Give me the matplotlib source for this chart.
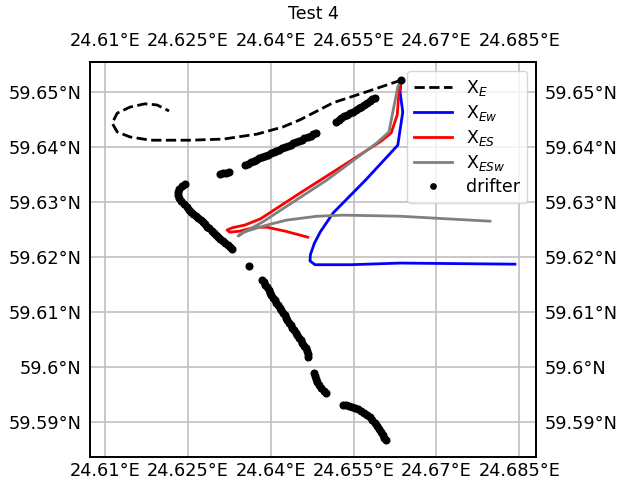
import matplotlib
matplotlib.use("Agg")
import matplotlib.pyplot as plt

# model tracks (lon, lat)
xe_lon = [24.6636, 24.6574, 24.6513, 24.6453, 24.6422, 24.6375, 24.6314, 24.6254, 24.6182,
          24.6145, 24.6122, 24.6113, 24.6122, 24.6145, 24.6172, 24.6194, 24.6216]
xe_lat = [59.6521, 59.6500, 59.6480, 59.6449, 59.6436, 59.6423, 59.6414, 59.6412, 59.6412,
          59.6418, 59.6427, 59.6443, 59.6461, 59.6472, 59.6478, 59.6476, 59.6465]

xew_lon = [24.6636, 24.6634, 24.6639, 24.6630, 24.6572, 24.6513, 24.6490, 24.6479, 24.6472,
           24.6471, 24.6480, 24.6544, 24.6634, 24.6842]
xew_lat = [59.6521, 59.6500, 59.6463, 59.6403, 59.6340, 59.6280, 59.6246, 59.6225, 59.6205,
           59.6193, 59.6186, 59.6186, 59.6189, 59.6187]

xes_lon = [24.6636, 24.6632, 24.6629, 24.6618, 24.6598, 24.6525, 24.6453, 24.6381, 24.6353,
           24.6330, 24.6321, 24.6326, 24.6344, 24.6372, 24.6393, 24.6426, 24.6467]
xes_lat = [59.6521, 59.6498, 59.6458, 59.6425, 59.6409, 59.6362, 59.6316, 59.6269, 59.6258,
           59.6253, 59.6249, 59.6245, 59.6247, 59.6254, 59.6254, 59.6247, 59.6236]

xesw_lon = [24.6636, 24.6630, 24.6621, 24.6614, 24.6592, 24.6502, 24.6386, 24.6350, 24.6341,
            24.6350, 24.6393, 24.6429, 24.6484, 24.6531, 24.6634, 24.6797]
xesw_lat = [59.6521, 59.6509, 59.6463, 59.6427, 59.6407, 59.6340, 59.6264, 59.6244, 59.6238,
            59.6245, 59.6258, 59.6267, 59.6274, 59.6276, 59.6274, 59.6265]

# drifter positions (lon, lat)
drifter_lon = [24.6636,
               24.6589, 24.6584, 24.6579, 24.6574, 24.6569, 24.6564, 24.6559, 24.6554, 24.6549,
               24.6543, 24.6538, 24.6533, 24.6528, 24.6523, 24.6518,
               24.6482, 24.6477, 24.6472, 24.6467, 24.6461, 24.6456, 24.6451, 24.6446, 24.6441,
               24.6436, 24.6431, 24.6425, 24.6420, 24.6415, 24.6410, 24.6405, 24.6400, 24.6395,
               24.6389, 24.6384, 24.6379, 24.6374, 24.6369, 24.6364, 24.6359, 24.6353,
               24.6324, 24.6319, 24.6313, 24.6308,
               24.6245, 24.6239, 24.6234, 24.6232, 24.6232, 24.6234, 24.6238, 24.6243, 24.6248,
               24.6252, 24.6256, 24.6260, 24.6264, 24.6268, 24.6273, 24.6277, 24.6281, 24.6285,
               24.6289, 24.6293, 24.6297, 24.6301, 24.6305, 24.6309, 24.6314, 24.6318, 24.6322,
               24.6326, 24.6330,
               24.6361,
               24.6384, 24.6387, 24.6390, 24.6393, 24.6396, 24.6399, 24.6401, 24.6404, 24.6407,
               24.6410, 24.6413, 24.6416, 24.6419, 24.6422, 24.6425, 24.6428, 24.6430, 24.6433,
               24.6436, 24.6439, 24.6442, 24.6445, 24.6448, 24.6451, 24.6454, 24.6457, 24.6460,
               24.6464, 24.6466, 24.6467, 24.6468,
               24.6478, 24.6480, 24.6482, 24.6484, 24.6487, 24.6491, 24.6496, 24.6500,
               24.6531, 24.6536, 24.6542, 24.6547, 24.6553, 24.6558, 24.6563, 24.6569, 24.6574,
               24.6580, 24.6583, 24.6589, 24.6592, 24.6596, 24.6600, 24.6603, 24.6605, 24.6609]
drifter_lat = [59.6521,
               59.6489, 59.6486, 59.6483, 59.6480, 59.6476, 59.6473, 59.6470, 59.6467, 59.6464,
               59.6461, 59.6458, 59.6455, 59.6452, 59.6448, 59.6445,
               59.6425, 59.6423, 59.6420, 59.6418, 59.6416, 59.6413, 59.6411, 59.6409, 59.6406,
               59.6404, 59.6402, 59.6400, 59.6397, 59.6395, 59.6393, 59.6390, 59.6388, 59.6386,
               59.6383, 59.6381, 59.6379, 59.6376, 59.6374, 59.6372, 59.6369, 59.6367,
               59.6354, 59.6353, 59.6352, 59.6351,
               59.6333, 59.6329, 59.6324, 59.6318, 59.6312, 59.6307, 59.6301, 59.6296, 59.6291,
               59.6285, 59.6282, 59.6278, 59.6274, 59.6270, 59.6267, 59.6263, 59.6259, 59.6255,
               59.6252, 59.6248, 59.6244, 59.6240, 59.6237, 59.6233, 59.6229, 59.6225, 59.6222,
               59.6218, 59.6215,
               59.6184,
               59.6158, 59.6154, 59.6149, 59.6145, 59.6140, 59.6135, 59.6131, 59.6126, 59.6122,
               59.6117, 59.6113, 59.6108, 59.6103, 59.6099, 59.6094, 59.6090, 59.6085, 59.6081,
               59.6076, 59.6071, 59.6067, 59.6062, 59.6058, 59.6053, 59.6049, 59.6044, 59.6039,
               59.6034, 59.6029, 59.6024, 59.6019,
               59.5989, 59.5984, 59.5979, 59.5973, 59.5968, 59.5962, 59.5957, 59.5953,
               59.5931, 59.5931, 59.5929, 59.5928, 59.5926, 59.5924, 59.5920, 59.5917, 59.5913,
               59.5909, 59.5904, 59.5899, 59.5893, 59.5888, 59.5882, 59.5877, 59.5871, 59.5868]

lon_ticks = [24.61, 24.625, 24.64, 24.655, 24.67, 24.685]
lat_ticks = [59.59, 59.6, 59.61, 59.62, 59.63, 59.64, 59.65]


def fmt_lon(v):
    return ("%.3f" % v).rstrip("0").rstrip(".") + "°E"


def fmt_lat(v):
    return ("%.3f" % v).rstrip("0").rstrip(".") + "°N"


fs = 12.8

fig = plt.figure(figsize=(6.19, 4.84), dpi=100)
ax = fig.add_axes([0.1459, 0.0564, 0.7196, 0.8155])

ax.plot(xe_lon, xe_lat, color='black', linestyle='--', linewidth=2, label=r'X$_E$')
ax.plot(xew_lon, xew_lat, color='blue', linewidth=2, label=r'X$_{Ew}$')
ax.plot(xes_lon, xes_lat, color='red', linewidth=2, label=r'X$_{ES}$')
ax.plot(xesw_lon, xesw_lat, color='gray', linewidth=2, label=r'X$_{ESw}$')
ax.plot(drifter_lon, drifter_lat, 'o', color='black', markersize=4.8, linestyle='',
        label='drifter')

ax.set_xlim(24.60734, 24.68797)
ax.set_ylim(59.58376, 59.65539)

# bottom / left / right labels
ax.set_xticks(lon_ticks)
ax.set_xticklabels([fmt_lon(v) for v in lon_ticks])
ax.set_yticks(lat_ticks)
ax.set_yticklabels([fmt_lat(v) for v in lat_ticks])
ax.tick_params(axis='x', length=0, labelsize=fs, pad=4)
ax.tick_params(axis='y', length=0, labelsize=fs, pad=6.5, right=True, labelright=True)

# top labels
top = ax.secondary_xaxis('top')
top.set_xticks(lon_ticks)
top.set_xticklabels([fmt_lon(v) for v in lon_ticks])
top.tick_params(length=0, labelsize=fs, pad=9)
top.spines['top'].set_linewidth(1.4)

ax.grid(True, color='#c0c0c0', linewidth=1.2)
ax.set_axisbelow(True)
for s in ax.spines.values():
    s.set_linewidth(1.4)

ax.set_title('Test 4', fontsize=12.5, pad=31)
ax.legend(loc='upper right', fontsize=12.5, labelspacing=0.3, handlelength=2.2,
          markerscale=0.8)

fig.savefig('out.png', dpi=100)
